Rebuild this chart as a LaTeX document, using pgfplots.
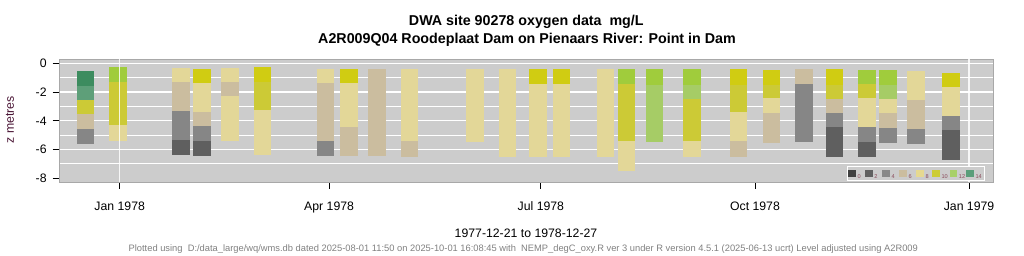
\documentclass[border=0pt]{standalone}
\usepackage{pgfplots}
\pgfplotsset{compat=1.18}
\usepackage{pgfplotstable}
\usepackage{fontspec}
\setmainfont{Liberation Sans}

\definecolor{panel}{HTML}{CCCCCC}
\definecolor{frame}{HTML}{A8A8A8}
\definecolor{cGD}{HTML}{3D8C5F}
\definecolor{cGL}{HTML}{5E9F79}
\definecolor{cLGB}{HTML}{A0CC3C}
\definecolor{cLGP}{HTML}{A6CC66}
\definecolor{cYB}{HTML}{D0CC12}
\definecolor{cY}{HTML}{CCCA36}
\definecolor{cLY}{HTML}{E3D798}
\definecolor{cT}{HTML}{CBBD9F}
\definecolor{cG4}{HTML}{868686}
\definecolor{cG2}{HTML}{5F5F5F}
\definecolor{zlab}{HTML}{4A1535}
\definecolor{lab}{HTML}{8A4A5A}

% cells: x = day since 1978-01-01, t = top depth, b = bottom depth
\pgfplotstableread{
x t b
-14.8 -0.54 -1.56
}\tGD
\pgfplotstableread{
x t b
-14.8 -1.56 -2.55
}\tGL
\pgfplotstableread{
x t b
-0.7 -0.26 -1.32
217.8 -0.40 -1.46
229.8 -0.40 -1.51
245.9 -0.40 -1.51
321.1 -0.47 -1.46
330.2 -0.47 -1.51
}\tLGB
\pgfplotstableread{
x t b
229.8 -1.51 -5.45
245.9 -1.51 -2.46
330.2 -1.51 -2.46
}\tLGP
\pgfplotstableread{
x t b
35.4 -0.40 -1.37
61.4 -0.26 -1.32
98.5 -0.40 -1.39
179.8 -0.40 -1.44
189.9 -0.40 -1.44
265.9 -0.40 -1.51
280.1 -0.47 -1.51
307.2 -0.40 -1.51
357.2 -0.67 -1.65
}\tYB
\pgfplotstableread{
x t b
-14.8 -2.55 -3.55
-0.7 -1.32 -4.30
61.4 -1.32 -3.25
217.8 -1.46 -5.40
245.9 -2.46 -5.40
265.9 -1.51 -3.36
280.1 -1.51 -2.41
307.2 -1.51 -2.46
321.1 -1.46 -2.41
}\tY
\pgfplotstableread{
x t b
-0.7 -4.30 -5.38
26.3 -0.33 -1.32
35.4 -1.37 -3.41
47.4 -0.33 -1.32
47.4 -2.27 -5.38
61.4 -3.25 -6.36
88.4 -0.40 -1.39
98.5 -1.39 -4.43
124.5 -0.40 -5.40
152.7 -0.40 -5.47
166.7 -0.40 -6.50
179.8 -1.44 -6.50
189.9 -1.44 -6.50
208.8 -0.40 -6.50
217.8 -5.40 -7.47
245.9 -5.40 -6.50
265.9 -3.36 -5.40
280.1 -2.41 -3.46
321.1 -2.41 -4.43
330.2 -2.46 -3.46
342.2 -0.54 -2.55
357.2 -1.65 -3.67
}\tLY
\pgfplotstableread{
x t b
-14.8 -3.55 -4.57
26.3 -1.32 -3.32
35.4 -3.41 -4.38
47.4 -1.32 -2.27
88.4 -1.39 -5.40
98.5 -4.43 -6.43
110.6 -0.40 -6.43
124.5 -5.40 -6.50
265.9 -5.40 -6.50
280.1 -3.46 -5.54
294.1 -0.40 -1.44
307.2 -2.46 -3.46
330.2 -3.46 -4.50
342.2 -2.55 -4.57
}\tT
\pgfplotstableread{
x t b
-14.8 -4.57 -5.61
26.3 -3.32 -5.34
35.4 -4.38 -5.43
88.4 -5.40 -6.43
294.1 -1.44 -5.45
307.2 -3.46 -4.43
321.1 -4.43 -5.50
330.2 -4.50 -5.54
342.2 -4.57 -5.61
357.2 -3.67 -4.66
}\tGfour
\pgfplotstableread{
x t b
26.3 -5.34 -6.36
35.4 -5.43 -6.43
307.2 -4.43 -6.50
321.1 -5.50 -6.50
357.2 -4.66 -6.71
}\tGtwo

\pgfplotsset{cell/.style={draw=none, no markers, forget plot,
  error bars/.cd, y dir=both, y explicit, error mark=none,
  error bar style={line width=12.98pt, draw=#1, line cap=butt, solid}}}
\newcommand{\cells}[2]{\addplot[cell=#1] table[x=x, y expr={(\thisrow{t}+\thisrow{b})/2}, y error expr={(\thisrow{t}-\thisrow{b})/2}] {#2};}

\begin{document}
\begin{tikzpicture}[x=0.75pt,y=0.75pt]
\path[use as bounding box] (0,0) rectangle (1024,256);
\begin{axis}[
  at={(44.475pt,55.275pt)}, anchor=south west,
  scale only axis, width=700.5pt, height=92.25pt,
  xmin=-25.96, xmax=375.42, ymin=-8.28, ymax=0.278,
  axis background/.style={fill=panel},
  axis line style={frame, line width=0.9pt},
  xtick={0,90,181,273,365},
  xticklabels={Jan 1978,Apr 1978,Jul 1978,Oct 1978,Jan 1979},
  ytick={-6,-4,-2,0},
  yticklabels={-6,-4,-2,0},
  minor ytick={-7,-5,-3,-1},
  ymajorgrids, yminorgrids,
  extra y ticks={-8}, extra y tick labels={-8}, extra y tick style={grid=none},
  grid style={white, line width=0.9pt},
  minor grid style={white, line width=0.9pt},
  minor tick length=0pt,
  tick align=outside, major tick length=5pt,
  tick style={black, line width=0.6pt},
  xtick pos=bottom, ytick pos=left,
  ticklabel style={font=\fontsize{9.2}{11}\selectfont},
  xticklabel style={yshift=-6pt},
  yticklabel style={xshift=-1pt},
  clip=true,
]
\cells{cGD}{\tGD}
\cells{cGL}{\tGL}
\cells{cLGB}{\tLGB}
\cells{cLGP}{\tLGP}
\cells{cYB}{\tYB}
\cells{cY}{\tY}
\cells{cLY}{\tLY}
\cells{cT}{\tT}
\cells{cG4}{\tGfour}
\cells{cG2}{\tGtwo}
\addplot[white, opacity=0.85, line width=0.9pt, forget plot] coordinates {(0,-8.28) (0,0.278)};
\addplot[white, opacity=0.85, line width=0.9pt, forget plot] coordinates {(365,-8.28) (365,0.278)};
\end{axis}
% legend
\path[fill=panel, draw=white, line width=0.75pt] (847.3,256-180.7) rectangle (984,256-166.7);
\foreach \xx/\cc/\ll in {848.3/404040/0, 865/606060/2, 882.3/888888/4, 899.3/CBBD9F/6, 916.3/E6D990/8, 932.3/CCCC33/10, 949.7/A8D068/12, 966.3/5A9E7A/14}{
  \definecolor{tmp}{HTML}{\cc}
  \fill[tmp] (\xx,256-177.3) rectangle (\xx+7.7,256-170);
  \node[anchor=base west, inner sep=0pt, text=lab, font=\fontsize{4.2}{5}\selectfont] at (\xx+9,256-178.3) {\ll};
}
% texts
\node[font=\fontsize{10.7}{12}\selectfont\bfseries] at (526.3,256-21.5) {DWA site 90278 oxygen data\ \ mg/L};
\node[font=\fontsize{10.7}{12}\selectfont\bfseries] at (527,256-40) {A2R009Q04 Roodeplaat Dam on Pienaars River: Point in Dam};
\node[font=\fontsize{9.2}{11}\selectfont] at (526,256-233.3) {1977-12-21 to 1978-12-27};
\node[font=\fontsize{7}{8}\selectfont, text={black!50}] at (523.3,256-249) {Plotted using\ \ D:/data\_large/wq/wms.db dated 2025-08-01 11:50 on 2025-10-01 16:08:45 with\ \ NEMP\_degC\_oxy.R ver 3 under R version 4.5.1 (2025-06-13 ucrt) Level adjusted using A2R009};
\node[rotate=90, font=\fontsize{9.2}{11}\selectfont, text=zlab] at (10,256-120) {z metres};
\end{tikzpicture}
\end{document}
